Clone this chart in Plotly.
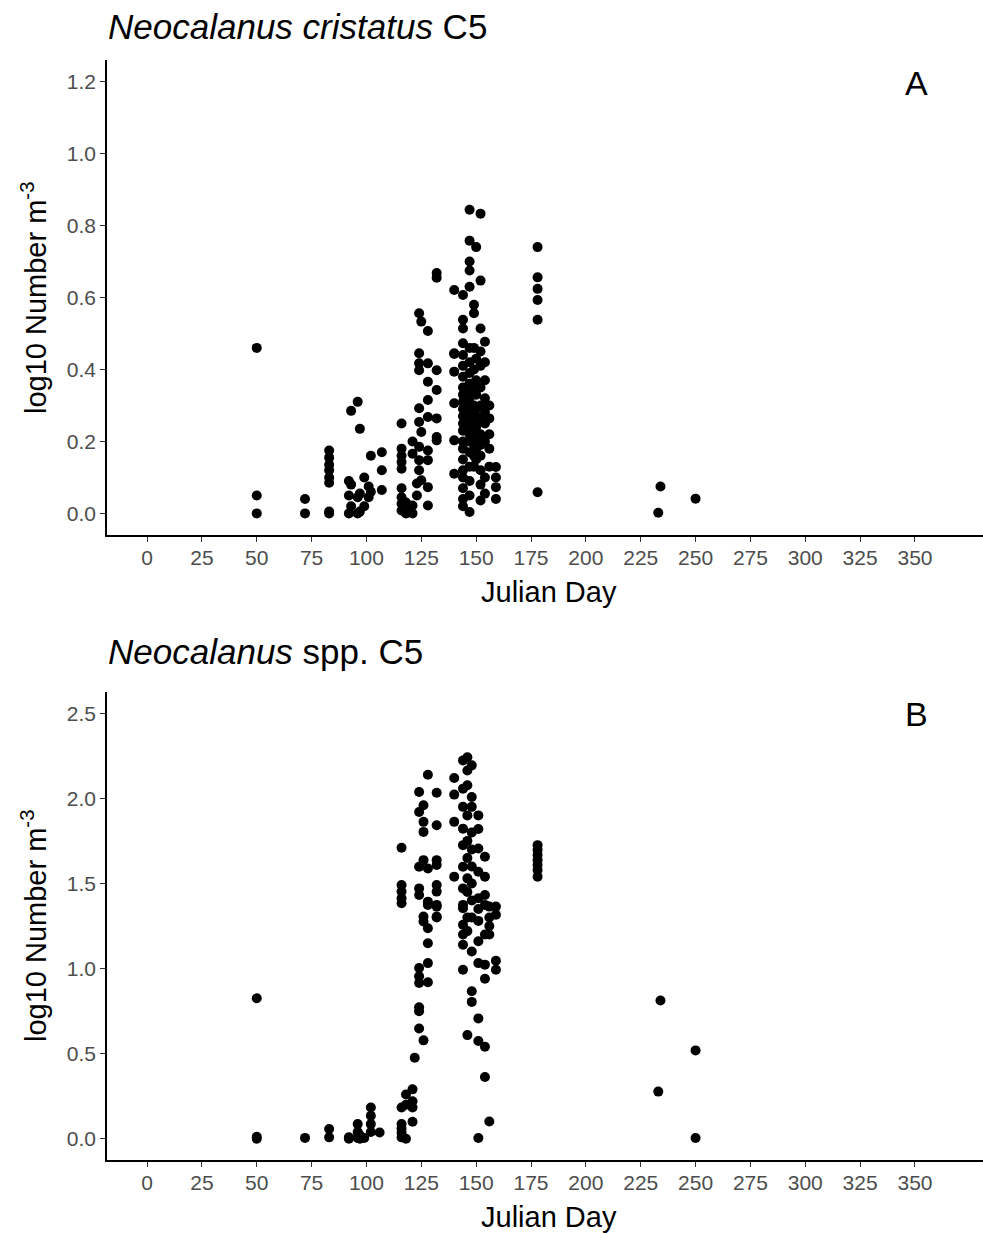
import plotly.graph_objects as go

# ---------------- data ----------------
# Panel A: Neocalanus cristatus C5  (day, log10 number m^-3)
groupsA = [
    (50, [0.46, 0.05, 0.0]),
    (72, [0.04, 0.0]),
    (83, [0.175, 0.155, 0.135, 0.12, 0.1, 0.085, 0.005, 0.0]),
    (92, [0.09, 0.05, 0.0]),
    (93, [0.285, 0.08, 0.02]),
    (96, [0.31, 0.045, 0.0]),
    (97, [0.235, 0.055, 0.005]),
    (99, [0.1, 0.02]),
    (101, [0.075, 0.045]),
    (102, [0.16, 0.06]),
    (107, [0.17, 0.12, 0.065]),
    (116, [0.25, 0.18, 0.16, 0.143, 0.124, 0.07, 0.045, 0.027, 0.008]),
    (118, [0.03, 0.01, 0.0]),
    (121, [0.2, 0.166, 0.022, 0.0]),
    (123, [0.083, 0.05]),
    (124, [0.556, 0.445, 0.417, 0.398, 0.292, 0.254, 0.185, 0.148, 0.12]),
    (125, [0.533, 0.226, 0.092]),
    (128, [0.507, 0.417, 0.366, 0.315, 0.268, 0.175, 0.148, 0.073, 0.022]),
    (132, [0.668, 0.655, 0.398, 0.343, 0.264, 0.212, 0.203]),
    (140, [0.621, 0.445, 0.443, 0.394, 0.306, 0.203, 0.11]),
    (144, [0.607, 0.538, 0.514, 0.473, 0.44, 0.41, 0.38, 0.35, 0.33, 0.31, 0.29,
           0.27, 0.25, 0.23, 0.2, 0.18, 0.15, 0.12, 0.1, 0.07, 0.04, 0.02]),
    (147, [0.844, 0.758, 0.7, 0.675, 0.63, 0.46, 0.42, 0.39, 0.36, 0.34, 0.32,
           0.3, 0.28, 0.26, 0.24, 0.22, 0.2, 0.17, 0.13, 0.09, 0.05, 0.004]),
    (149, [0.58, 0.556, 0.46, 0.4, 0.35, 0.3, 0.25, 0.22, 0.19, 0.16, 0.13]),
    (150, [0.74, 0.43, 0.37, 0.33, 0.29, 0.27, 0.24, 0.21, 0.18, 0.15]),
    (152, [0.833, 0.647, 0.514, 0.45, 0.41, 0.35, 0.3, 0.26, 0.22, 0.19, 0.16,
           0.12, 0.08, 0.036]),
    (154, [0.477, 0.42, 0.37, 0.32, 0.28, 0.25, 0.2, 0.1, 0.055]),
    (156, [0.3, 0.264, 0.22, 0.18, 0.13]),
    (159, [0.129, 0.1, 0.073, 0.04]),
    (178, [0.74, 0.656, 0.624, 0.593, 0.538, 0.059]),
    (233, [0.002]),
    (234, [0.075]),
    (250, [0.041]),
]

# Panel B: Neocalanus spp. C5
groupsB = [
    (50, [0.825, 0.012, 0.0]),
    (72, [0.005]),
    (83, [0.057, 0.008]),
    (92, [0.008, 0.0]),
    (96, [0.086, 0.04, 0.005]),
    (97, [0.02, 0.0]),
    (99, [0.005]),
    (102, [0.183, 0.135, 0.086, 0.04]),
    (106, [0.037]),
    (116, [1.71, 1.491, 1.452, 1.413, 1.384, 0.183, 0.086, 0.06, 0.035, 0.008]),
    (118, [0.26, 0.2, 0.0]),
    (121, [0.29, 0.22, 0.183, 0.1]),
    (122, [0.476]),
    (124, [2.037, 1.92, 1.598, 1.471, 1.432, 1.003, 0.954, 0.915, 0.773, 0.749, 0.648]),
    (126, [1.96, 1.862, 1.803, 1.637, 1.306, 1.276, 0.578]),
    (128, [2.139, 1.588, 1.393, 1.374, 1.237, 1.149, 1.032, 0.919]),
    (132, [2.033, 1.842, 1.637, 1.608, 1.491, 1.452, 1.374, 1.364, 1.306, 1.3]),
    (140, [2.12, 2.022, 1.862, 1.54]),
    (144, [2.223, 2.057, 1.95, 1.822, 1.725, 1.598, 1.471, 1.374, 1.354, 1.257,
           1.2, 1.14, 0.993]),
    (146, [2.242, 2.164, 2.077, 1.9, 1.75, 1.65, 1.53, 1.45, 1.3, 1.22, 0.609]),
    (148, [2.194, 2.008, 1.95, 1.8, 1.7, 1.6, 1.5, 1.4, 1.3, 1.1, 0.867, 0.804]),
    (151, [1.9, 1.82, 1.705, 1.569, 1.413, 1.35, 1.28, 1.16, 1.032, 0.707, 0.574, 0.004]),
    (154, [1.657, 1.54, 1.432, 1.374, 1.2, 1.023, 0.94, 0.54, 0.363]),
    (156, [1.364, 1.3, 1.25, 1.2, 0.101]),
    (159, [1.364, 1.316, 1.046, 0.993]),
    (178, [1.725, 1.696, 1.667, 1.637, 1.608, 1.579, 1.54]),
    (233, [0.277]),
    (234, [0.812]),
    (250, [0.519, 0.004]),
]

dayA = [d for d, vs in groupsA for _ in vs]
valA = [v for d, vs in groupsA for v in vs]
dayB = [d for d, vs in groupsB for _ in vs]
valB = [v for d, vs in groupsB for v in vs]

x_ticks = list(range(0, 351, 25))
yA_ticks = [0.0, 0.2, 0.4, 0.6, 0.8, 1.0, 1.2]
yB_ticks = [0.0, 0.5, 1.0, 1.5, 2.0, 2.5]

# ---------------- layout helpers ----------------
W, H = 983, 1233
FONT = "Liberation Sans, Arial, sans-serif"


def px(x):
    return x / W


def py(y):
    return 1 - y / H


fig = go.Figure()
fig.add_trace(go.Scatter(x=dayA, y=valA, mode="markers", xaxis="x", yaxis="y",
                         marker=dict(color="black", size=10, line=dict(width=0)),
                         showlegend=False))
fig.add_trace(go.Scatter(x=dayB, y=valB, mode="markers", xaxis="x2", yaxis="y2",
                         marker=dict(color="black", size=10, line=dict(width=0)),
                         showlegend=False))

xaxis_common = dict(
    range=[-18.25, 381], tickvals=x_ticks, showgrid=False, zeroline=False,
    showline=True, linecolor="black", linewidth=1.6, ticks="outside",
    ticklen=5, tickwidth=1.3, tickcolor="#333333", ticklabelstandoff=-2,
    tickfont=dict(family=FONT, size=21, color="#4D4D4D"),
    domain=[px(107), 1],
)
yaxis_common = dict(
    showgrid=False, zeroline=False, showline=True, linecolor="black",
    linewidth=1.6, ticks="outside", ticklen=5, tickwidth=1.3,
    tickcolor="#333333", tickformat=".1f",
    tickfont=dict(family=FONT, size=21, color="#4D4D4D"),
)

fig.update_layout(
    width=W, height=H, margin=dict(l=0, r=0, t=0, b=0),
    paper_bgcolor="white", plot_bgcolor="white",
    xaxis=dict(**xaxis_common, anchor="y"),
    yaxis=dict(**yaxis_common, range=[-0.06, 1.26], tickvals=yA_ticks,
               domain=[py(535), py(60)], anchor="x"),
    xaxis2=dict(**xaxis_common, anchor="y2"),
    yaxis2=dict(**yaxis_common, range=[-0.125, 2.625], tickvals=yB_ticks,
                domain=[py(1160), py(692)], anchor="x2"),
)

ann = []
# titles
ann.append(dict(text="<i>Neocalanus cristatus</i> C5", x=px(106), y=py(27),
                xanchor="left", yanchor="middle", showarrow=False,
                font=dict(family=FONT, size=35, color="black")))
ann.append(dict(text="<i>Neocalanus</i> spp. C5", x=px(106), y=py(652),
                xanchor="left", yanchor="middle", showarrow=False,
                font=dict(family=FONT, size=35, color="black")))
# panel letters
ann.append(dict(text="A", x=px(916), y=py(83), xanchor="center", yanchor="middle",
                showarrow=False, font=dict(family=FONT, size=34, color="black")))
ann.append(dict(text="B", x=px(916), y=py(714), xanchor="center", yanchor="middle",
                showarrow=False, font=dict(family=FONT, size=34, color="black")))
# x titles
for yy in (592, 1217):
    ann.append(dict(text="Julian Day", x=px(549), y=py(yy), xanchor="center",
                    yanchor="middle", showarrow=False,
                    font=dict(family=FONT, size=29, color="black")))
# y titles
for yy in (298, 926):
    ann.append(dict(text="log10 Number m<sup>-3</sup>", x=px(34), y=py(yy),
                    xanchor="center", yanchor="middle", textangle=-90,
                    showarrow=False,
                    font=dict(family=FONT, size=29, color="black")))

for a in ann:
    a["xref"] = "paper"
    a["yref"] = "paper"
fig.update_layout(annotations=ann)

fig.write_html("out.html")
